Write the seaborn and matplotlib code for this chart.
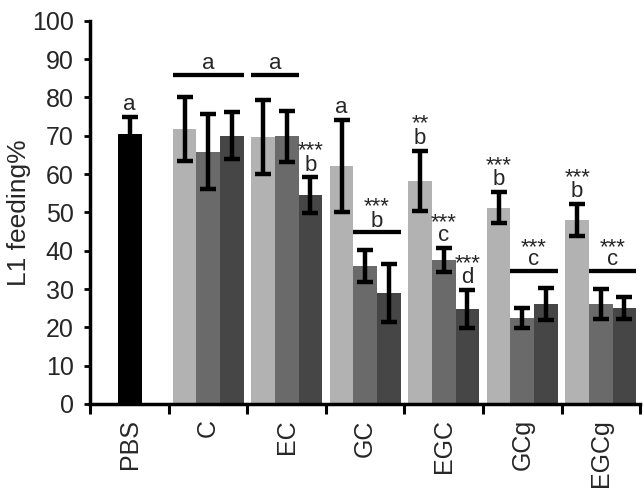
import numpy as np
import pandas as pd
import matplotlib
matplotlib.use("Agg")
import matplotlib.pyplot as plt
import seaborn as sns

# ---------------- data ----------------
order = ["PBS", "C", "EC", "GC", "EGC", "GCg", "EGCg"]
groups = ["C", "EC", "GC", "EGC", "GCg", "EGCg"]
doses = ["dose 1", "dose 2", "dose 3"]

pbs_mean = [70.5]
pbs_err = [4.5]

mean_d1 = [71.7, 69.7, 62.2, 58.2, 51.2, 48.0]
mean_d2 = [65.8, 69.8, 36.0, 37.6, 22.4, 26.1]
mean_d3 = [70.0, 54.5, 28.9, 24.8, 26.1, 25.0]
err_d1 = [8.3, 9.6, 12.0, 7.8, 4.0, 4.1]
err_d2 = [9.8, 6.7, 4.2, 3.2, 2.7, 3.8]
err_d3 = [6.2, 4.6, 7.5, 5.0, 4.2, 2.9]

# single-bar labels: (category, dose index or None for PBS, letter, stars)
bar_labels = [
    ("PBS", None, "a", ""),
    ("EC", 2, "b", "***"),
    ("GC", 0, "a", ""),
    ("EGC", 0, "b", "**"),
    ("EGC", 1, "c", "***"),
    ("EGC", 2, "d", "***"),
    ("GCg", 0, "b", "***"),
    ("EGCg", 0, "b", "***"),
]
# bracket labels: (category, first dose, last dose, letter, stars, line level)
bracket_labels = [
    ("C", 0, 2, "a", "", 85.9),
    ("EC", 0, 1, "a", "", 85.9),
    ("GC", 1, 2, "b", "***", 44.8),
    ("GCg", 1, 2, "c", "***", 34.8),
    ("EGCg", 1, 2, "c", "***", 34.8),
]

palette = ["#b2b2b2", "#6a6a6a", "#464646"]

# ---------------- figure ----------------
sns.set_style("ticks")
plt.rcParams["font.family"] = ["Liberation Sans", "DejaVu Sans"]

fig = plt.figure(figsize=(6.44, 4.91), dpi=100)
ax = fig.add_axes([0.1405, 0.1772, 0.8533, 0.7806])

df = pd.DataFrame({
    "cat": np.repeat(groups, 3),
    "dose": doses * len(groups),
    "val": np.ravel(np.column_stack([mean_d1, mean_d2, mean_d3])),
    "err": np.ravel(np.column_stack([err_d1, err_d2, err_d3])),
})
pbs_df = pd.DataFrame({"cat": ["PBS"], "val": pbs_mean, "err": pbs_err})

sns.barplot(data=pbs_df, x="cat", y="val", order=order, color="black",
            width=0.3, errorbar=None, linewidth=0, ax=ax, zorder=2)
n_pbs = len(ax.patches)
sns.barplot(data=df, x="cat", y="val", hue="dose", order=order,
            hue_order=doses, palette=palette, width=0.9, errorbar=None,
            linewidth=0, legend=False, ax=ax, saturation=1, zorder=2)

# map bars -> (category, dose) and draw error bars
bar_pos = {}
for i, p in enumerate(ax.patches):
    if p.get_height() == 0:
        continue
    cx = p.get_x() + p.get_width() / 2
    ci = int(round(cx))
    cat = order[ci]
    if i < n_pbs:
        key = (cat, None)
        err = pbs_err[0]
    else:
        j = int(round((cx - ci) / 0.3)) + 1
        key = (cat, j)
        err = df[(df.cat == cat) & (df.dose == doses[j])]["err"].iloc[0]
    bar_pos[key] = (cx, p.get_x(), p.get_x() + p.get_width(), p.get_height(), err)
    ax.errorbar(cx, p.get_height(), yerr=err, fmt="none", ecolor="black",
                elinewidth=3.2, capsize=5.5, capthick=3.2, zorder=3)

TXT = 16
spacing = {"a": 0.45, "c": 0.45, "b": 0.6, "d": 0.55}


def label(x, y, letter, stars, offset):
    s = stars + "\n" + letter if stars else letter
    ax.annotate(s, xy=(x, y), xytext=(0, offset), textcoords="offset points",
                ha="center", va="baseline", multialignment="center",
                linespacing=spacing[letter], fontsize=TXT)


for cat, j, letter, stars in bar_labels:
    cx, x0, x1, h, err = bar_pos[(cat, j)]
    label(cx, h + err, letter, stars, 5)

for cat, j0, j1, letter, stars, level in bracket_labels:
    xa = bar_pos[(cat, j0)][1]
    xb = bar_pos[(cat, j1)][2]
    ax.plot([xa, xb], [level, level], color="black", lw=3.1,
            solid_capstyle="butt", zorder=3)
    label((xa + xb) / 2, level, letter, stars, 4)

# ---------------- axes styling ----------------
ax.set_ylim(0, 100)
ax.set_xlim(-0.5, len(order) - 0.5)
ax.set_yticks(np.arange(0, 101, 10))
ax.set_xticks(np.arange(len(order)))
ax.set_xticklabels(order, rotation=90, fontsize=18)
ax.set_xticks(np.arange(-0.5, len(order), 1), minor=True)
ax.tick_params(axis="x", which="major", length=0, pad=11)
ax.tick_params(axis="x", which="minor", length=7, width=2.2, color="black")
ax.tick_params(axis="y", which="major", length=4, width=2, pad=8,
               labelsize=18, color="black")
ax.set_xlabel("")
ax.set_ylabel("L1 feeding%", fontsize=19, labelpad=1)

for s in ["top", "right"]:
    ax.spines[s].set_visible(False)
for s in ["left", "bottom"]:
    ax.spines[s].set_linewidth(2.5)
    ax.spines[s].set_color("black")
    ax.spines[s].set_zorder(4)

fig.savefig("out.png", dpi=100)
